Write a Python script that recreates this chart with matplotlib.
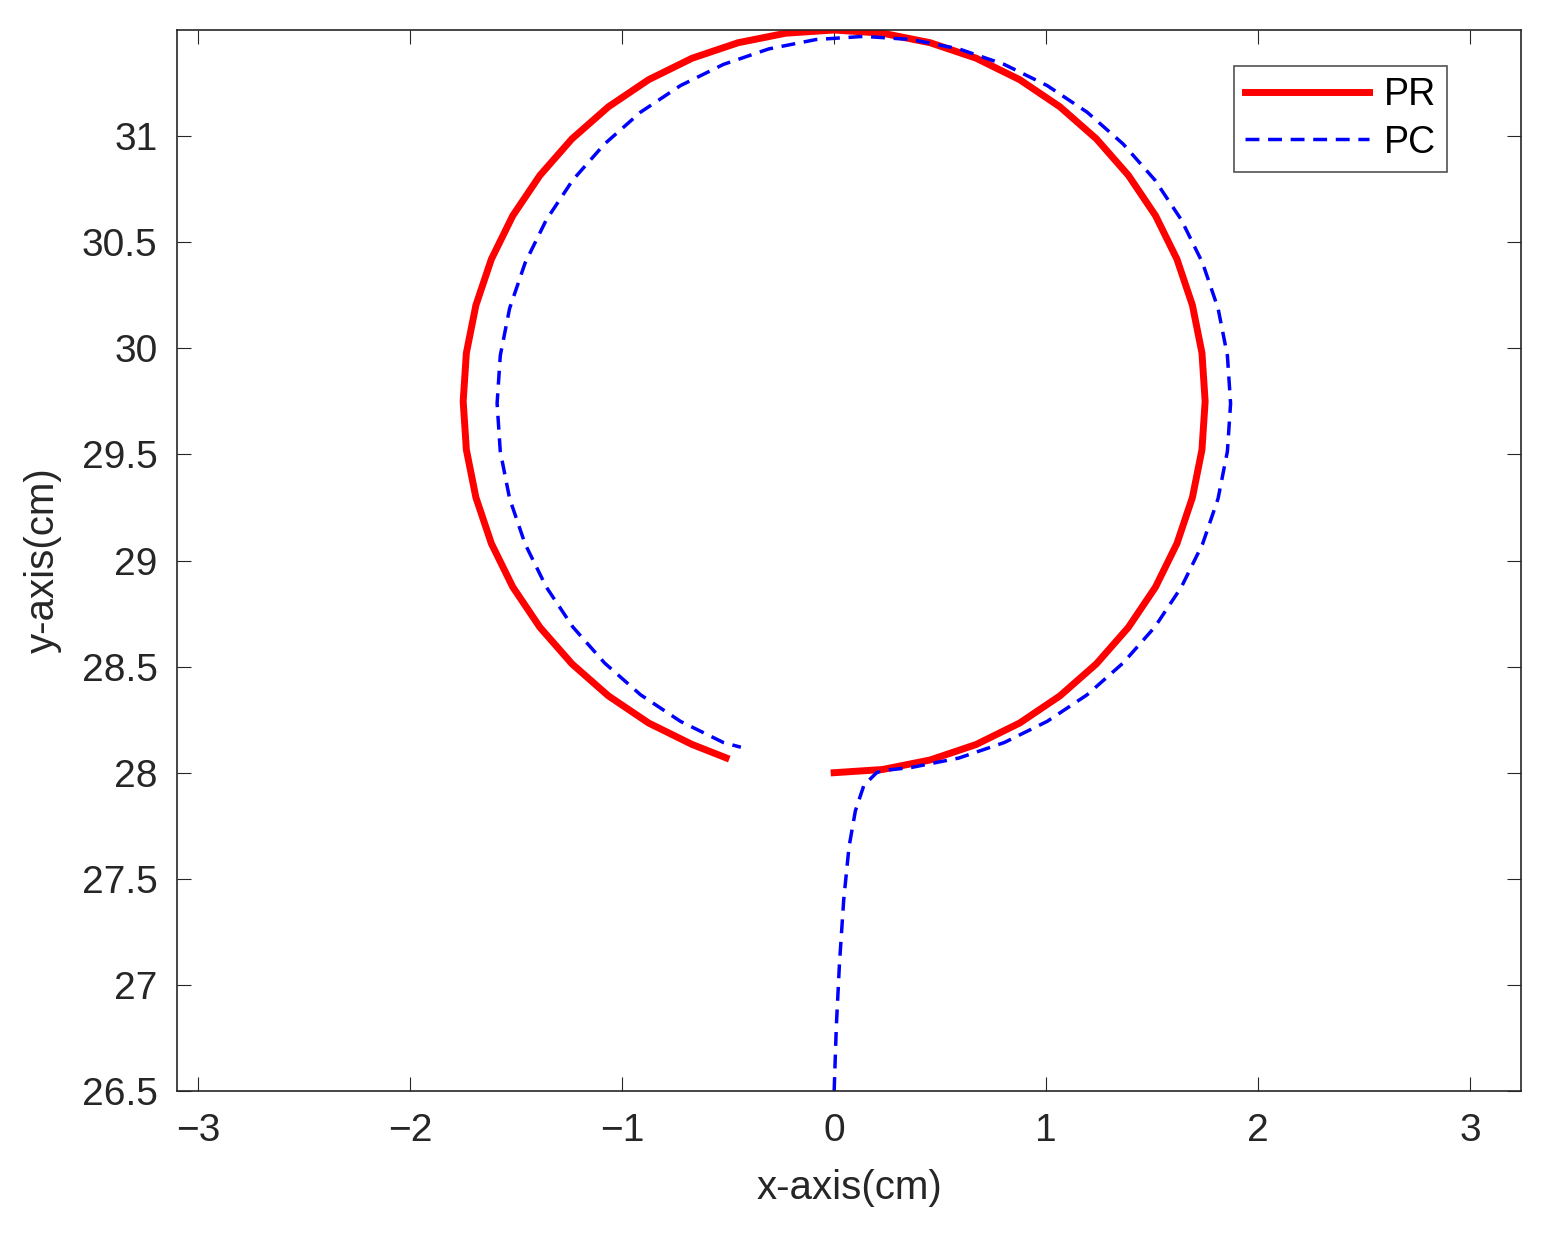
import matplotlib
matplotlib.use("Agg")
import matplotlib.pyplot as plt

# PR trajectory (cm)
pr_x = [0.0, 0.228, 0.453, 0.670, 0.875, 1.065, 1.237, 1.388, 1.516, 1.617, 1.690, 1.735, 1.75,
        1.735, 1.690, 1.617, 1.516, 1.388, 1.237, 1.065, 0.875, 0.670, 0.453, 0.228, 0.0,
        -0.228, -0.453, -0.670, -0.875, -1.065, -1.237, -1.388, -1.516, -1.617, -1.690, -1.735, -1.75,
        -1.735, -1.690, -1.617, -1.516, -1.388, -1.237, -1.065, -0.875, -0.670, -0.51]
pr_y = [28.0, 28.015, 28.06, 28.133, 28.234, 28.362, 28.513, 28.685, 28.875, 29.08, 29.297, 29.522, 29.75,
        29.978, 30.203, 30.42, 30.625, 30.815, 30.987, 31.138, 31.266, 31.367, 31.44, 31.485, 31.5,
        31.485, 31.44, 31.367, 31.266, 31.138, 30.987, 30.815, 30.625, 30.42, 30.203, 29.978, 29.75,
        29.522, 29.297, 29.08, 28.875, 28.685, 28.513, 28.362, 28.234, 28.133, 28.07]

# PC trajectory (cm)
pc_x = [0.0, 0.01, 0.025, 0.045, 0.07, 0.10, 0.14, 0.20, 0.23, 0.366, 0.588, 0.802, 1.005, 1.193,
        1.363, 1.513, 1.638, 1.738, 1.811, 1.855, 1.87, 1.855, 1.811, 1.738, 1.638, 1.513, 1.363,
        1.193, 1.005, 0.802, 0.588, 0.366, 0.14, -0.086, -0.308, -0.522, -0.725, -0.913, -1.083,
        -1.233, -1.358, -1.458, -1.531, -1.575, -1.59, -1.575, -1.531, -1.458, -1.358, -1.233,
        -1.083, -0.913, -0.725, -0.522, -0.44]
pc_y = [26.5, 26.8, 27.1, 27.4, 27.65, 27.82, 27.94, 28.0, 28.01, 28.025, 28.069, 28.142, 28.242, 28.367,
        28.517, 28.687, 28.875, 29.078, 29.292, 29.514, 29.74, 29.966, 30.188, 30.402, 30.605, 30.793, 30.963,
        31.113, 31.238, 31.338, 31.411, 31.455, 31.47, 31.455, 31.411, 31.338, 31.238, 31.113, 30.963,
        30.793, 30.605, 30.402, 30.188, 29.966, 29.74, 29.514, 29.292, 29.078, 28.875, 28.687,
        28.517, 28.367, 28.242, 28.142, 28.12]

xticks = [-3, -2, -1, 0, 1, 2, 3]
yticks = [26.5, 27, 27.5, 28, 28.5, 29, 29.5, 30, 30.5, 31]

plt.rcParams['font.family'] = ['Liberation Sans', 'DejaVu Sans']
fig = plt.figure(figsize=(15.51, 12.36), dpi=100)
ax = fig.add_axes([177 / 1551, 1 - 1091 / 1236, 1344 / 1551, 1061 / 1236])

ax.plot(pr_x, pr_y, color='#ff0000', lw=5, label='PR')
ax.plot(pc_x, pc_y, color='#0000ff', lw=2.5, ls=(0, (4, 2.5)), label='PC')

ax.set_xlim(-3.10, 3.24)
ax.set_ylim(26.5, 31.5)
ax.set_xticks(xticks)
ax.set_xticklabels(['\u22123', '\u22122', '\u22121', '0', '1', '2', '3'])
ax.set_yticks(yticks)
ax.set_yticklabels(['26.5', '27', '27.5', '28', '28.5', '29', '29.5', '30', '30.5', '31'])
ax.tick_params(direction='in', length=10, labelsize=28, top=True, right=True, colors='#262626')
ax.tick_params(axis='x', pad=16)
ax.tick_params(axis='y', pad=14)
for s in ax.spines.values():
    s.set_color('#262626')
    s.set_linewidth(1.2)
ax.set_xlabel('x-axis(cm)', fontsize=29, color='#262626', labelpad=14)
ax.set_ylabel('y-axis(cm)', fontsize=29, color='#262626', labelpad=14)

leg = ax.legend(loc='upper right', bbox_to_anchor=(0.945, 0.966), fontsize=27, fancybox=False,
                edgecolor='#262626', handlelength=3.3, handletextpad=0.4, borderpad=0.3,
                labelspacing=0.3, borderaxespad=0)
leg.get_frame().set_linewidth(1.2)

fig.savefig('out.png', dpi=100)
